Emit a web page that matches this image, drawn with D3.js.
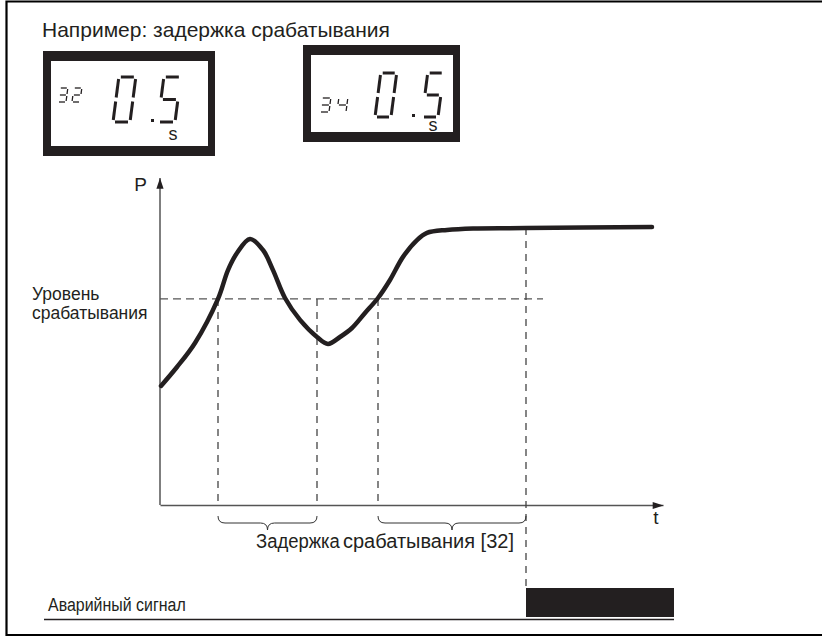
<!DOCTYPE html>
<html>
<head>
<meta charset="utf-8">
<script src="https://cdn.jsdelivr.net/npm/d3@7"></script>
<style>
body { margin: 0; background: #fff; }
svg { display: block; font-family: "Liberation Sans", Arial, sans-serif; }
</style>
</head>
<body>
<svg width="822" height="637"></svg>
<script>
// pressure curve P(t)
var curveT = [0.2, 3.4, 7, 11.6, 13.6, 15.4, 18, 20.6, 22.6, 25, 28, 31.4, 33.6, 36, 38.4, 41, 43.6, 46, 48.6, 51.4, 53.4, 57.4, 62.6, 73.2, 98.4];
var curveP = [39.7, 46, 54, 68.7, 78.3, 84, 88.7, 85, 78.3, 69, 61.7, 56, 53.7, 56, 59, 64, 69, 75, 82.7, 88.3, 90.7, 91.7, 92.2, 92.3, 92.7];

var tMax = 100.6;
var pMax = 109;
var triggerLevel = 68.7;
var triggerEnd = 76.6;
var markerTimes = [11.6, 31.4, 43.6, 73.2];
var delayIntervals = [[11.6, 31.4], [43.6, 73.2]];
var alarmOn = [73.2, 102.8];

var displayCodes = ['32', '34'];
var displayValues = ['0.5', '0.5'];
var displayUnit = 's';

var titleText = 'Например: задержка срабатывания';
var levelLabel = ['Уровень', 'срабатывания'];
var delayLabel = ['Задержка', 'срабатывания [32]'];
var alarmLabel = 'Аварийный сигнал';
var axisLabels = ['t', 'P'];

var ink = '#231f20';

var svg = d3.select('svg');
var svgWidth = +svg.attr('width');
var svgHeight = +svg.attr('height');

var x = d3.scaleLinear().domain([0, tMax]).range([160, 663]);
var y = d3.scaleLinear().domain([0, pMax]).range([505, 178]);

// outer frame (open on the right)
svg.append('path')
    .attr('d', 'M' + svgWidth + ',1.5H6.5V635H' + svgWidth)
    .attr('fill', 'none')
    .attr('stroke', '#000')
    .attr('stroke-width', 2.2);

svg.append('text')
    .attr('x', 42)
    .attr('y', 37)
    .attr('font-size', 21)
    .attr('fill', ink)
    .text(titleText);

// seven segment displays
var segMap = {
    '0': 'abcdef', '1': 'bc', '2': 'abged', '3': 'abgcd', '4': 'fgbc',
    '5': 'afgcd', '6': 'afgedc', '7': 'abc', '8': 'abcdefg', '9': 'abcdfg'
};

var displayBoxes = [
    {x: 43, y: 51, w: 172, h: 105,
     code: {x: 58, y: 102, w: 8, h: 14, step: 14},
     big: {x: 113, y: 122, w: 17, h: 45, step: 45, dot: -7},
     unit: {x: 173, y: 140}},
    {x: 303, y: 45, w: 157, h: 97,
     code: {x: 320, y: 112, w: 9, h: 14, step: 17},
     big: {x: 375, y: 117, w: 16, h: 44, step: 47, dot: -10},
     unit: {x: 433, y: 131}}
];

function segPoints(s, w, h, g) {
    var m = h / 2;
    return {
        a: [[g, h], [w - g, h]],
        b: [[w, h - g], [w, m + g]],
        c: [[w, m - g], [w, g]],
        d: [[g, 0], [w - g, 0]],
        e: [[0, g], [0, m - g]],
        f: [[0, m + g], [0, h - g]],
        g: [[g, m], [w - g, m]]
    }[s];
}

function drawDigits(g, str, p, sw, gap) {
    var slant = 0.13;
    var cx = p.x;
    str.split('').forEach(function(ch) {
        if (ch === '.') {
            g.append('rect')
                .attr('x', cx + p.dot)
                .attr('y', p.y - 3)
                .attr('width', 3)
                .attr('height', 3)
                .attr('fill', ink);
            return;
        }
        var x0 = cx;
        segMap[ch].split('').forEach(function(s) {
            var pts = segPoints(s, p.w, p.h, gap).map(function(q) {
                return [x0 + q[0] + slant * q[1], p.y - q[1]];
            });
            g.append('line')
                .attr('x1', pts[0][0]).attr('y1', pts[0][1])
                .attr('x2', pts[1][0]).attr('y2', pts[1][1])
                .attr('stroke', ink)
                .attr('stroke-width', sw);
        });
        cx += p.step;
    });
}

displayBoxes.forEach(function(b, i) {
    var g = svg.append('g').attr('class', 'display');
    g.append('rect')
        .attr('x', b.x).attr('y', b.y)
        .attr('width', b.w).attr('height', b.h)
        .attr('fill', ink);
    g.append('rect')
        .attr('x', b.x + 8).attr('y', b.y + 10)
        .attr('width', b.w - 15).attr('height', b.h - 20)
        .attr('fill', '#fff');
    drawDigits(g, displayCodes[i], b.code, 1.3, 1);
    drawDigits(g, displayValues[i], b.big, 3, 2);
    g.append('text')
        .attr('x', b.unit.x)
        .attr('y', b.unit.y)
        .attr('text-anchor', 'middle')
        .attr('font-size', 18)
        .attr('fill', ink)
        .text(displayUnit);
});

// arrow heads for the axes
svg.append('defs').append('marker')
    .attr('id', 'arrow')
    .attr('viewBox', '0 -5 12 10')
    .attr('refX', 12)
    .attr('refY', 0)
    .attr('markerUnits', 'userSpaceOnUse')
    .attr('markerWidth', 12)
    .attr('markerHeight', 9)
    .attr('orient', 'auto')
    .append('path')
    .attr('d', 'M0,-4L12,0L0,4Z')
    .attr('fill', ink);

var xAxis = svg.append('g')
    .attr('transform', 'translate(0,' + y(0) + ')')
    .call(d3.axisBottom(x).tickValues([]).tickSizeOuter(0));
var yAxis = svg.append('g')
    .attr('transform', 'translate(' + x(0) + ',0)')
    .call(d3.axisLeft(y).tickValues([]).tickSizeOuter(0));

svg.selectAll('.domain')
    .attr('stroke', '#555')
    .attr('stroke-width', 1.5)
    .attr('marker-end', 'url(#arrow)');
// axisLeft runs top to bottom, flip it so the arrow points up
yAxis.select('.domain').attr('d', 'M0,' + y(0) + 'V' + y(pMax));

svg.append('text')
    .attr('x', 656).attr('y', 524)
    .attr('text-anchor', 'middle')
    .attr('font-size', 19)
    .attr('fill', ink)
    .text(axisLabels[0]);
svg.append('text')
    .attr('x', 147).attr('y', 191)
    .attr('text-anchor', 'end')
    .attr('font-size', 19)
    .attr('fill', ink)
    .text(axisLabels[1]);

// trigger level
svg.append('line')
    .attr('x1', x(0)).attr('x2', x(triggerEnd))
    .attr('y1', y(triggerLevel)).attr('y2', y(triggerLevel))
    .attr('stroke', '#555')
    .attr('stroke-width', 1.3)
    .attr('stroke-dasharray', '8,5');

var levelText = svg.append('text')
    .attr('x', 32)
    .attr('y', 300)
    .attr('font-size', 17.5)
    .attr('fill', ink);
levelText.selectAll('tspan')
    .data(levelLabel)
    .enter()
    .append('tspan')
    .attr('x', 32)
    .attr('dy', function(d, i) { return i ? 19 : 0; })
    .text(function(d) { return d; });

// vertical markers
var alarmTop = 588;
svg.selectAll('.marker')
    .data(markerTimes)
    .enter()
    .append('line')
    .attr('class', 'marker')
    .attr('x1', function(d) { return x(d); })
    .attr('x2', function(d) { return x(d); })
    .attr('y1', function(d, i) { return i < 3 ? y(triggerLevel) : y(92.3); })
    .attr('y2', function(d, i) { return i < 3 ? y(0) : alarmTop; })
    .attr('stroke', '#444')
    .attr('stroke-width', 1.3)
    .attr('stroke-dasharray', '7,6');

// the curve
var line = d3.line()
    .x(function(d) { return x(d[0]); })
    .y(function(d) { return y(d[1]); })
    .curve(d3.curveCatmullRom.alpha(0.5));

svg.append('path')
    .datum(d3.zip(curveT, curveP))
    .attr('d', line)
    .attr('fill', 'none')
    .attr('stroke', ink)
    .attr('stroke-width', 4.5)
    .attr('stroke-linecap', 'round')
    .attr('stroke-linejoin', 'round');

// braces below the time axis
function brace(x0, x1, y0, h) {
    var xm = (x0 + x1) / 2, ym = y0 + h / 2, r = h / 2;
    return 'M' + x0 + ',' + y0 +
        'Q' + x0 + ',' + ym + ' ' + (x0 + r) + ',' + ym +
        'L' + (xm - r) + ',' + ym +
        'Q' + xm + ',' + ym + ' ' + xm + ',' + (y0 + h) +
        'Q' + xm + ',' + ym + ' ' + (xm + r) + ',' + ym +
        'L' + (x1 - r) + ',' + ym +
        'Q' + x1 + ',' + ym + ' ' + x1 + ',' + y0;
}

svg.selectAll('.brace')
    .data(delayIntervals)
    .enter()
    .append('path')
    .attr('class', 'brace')
    .attr('d', function(d) { return brace(x(d[0]), x(d[1]), 516, 14); })
    .attr('fill', 'none')
    .attr('stroke', '#333')
    .attr('stroke-width', 1);

// "Задержка" is set in a condensed face in the original
svg.append('text')
    .attr('transform', 'translate(256,548) scale(0.88,1)')
    .attr('font-size', 21)
    .attr('fill', ink)
    .text(delayLabel[0]);
svg.append('text')
    .attr('x', 343)
    .attr('y', 548)
    .attr('font-size', 20)
    .attr('fill', ink)
    .text(delayLabel[1]);

// alarm lane
svg.append('text')
    .attr('transform', 'translate(48,611) scale(0.84,1)')
    .attr('font-size', 19)
    .attr('fill', ink)
    .text(alarmLabel);

svg.append('line')
    .attr('x1', 44).attr('x2', x(alarmOn[1]))
    .attr('y1', 619.5).attr('y2', 619.5)
    .attr('stroke', ink)
    .attr('stroke-width', 1.3);

svg.append('rect')
    .attr('x', x(alarmOn[0]))
    .attr('y', alarmTop)
    .attr('width', x(alarmOn[1]) - x(alarmOn[0]))
    .attr('height', 29)
    .attr('fill', ink);
</script>
</body>
</html>
